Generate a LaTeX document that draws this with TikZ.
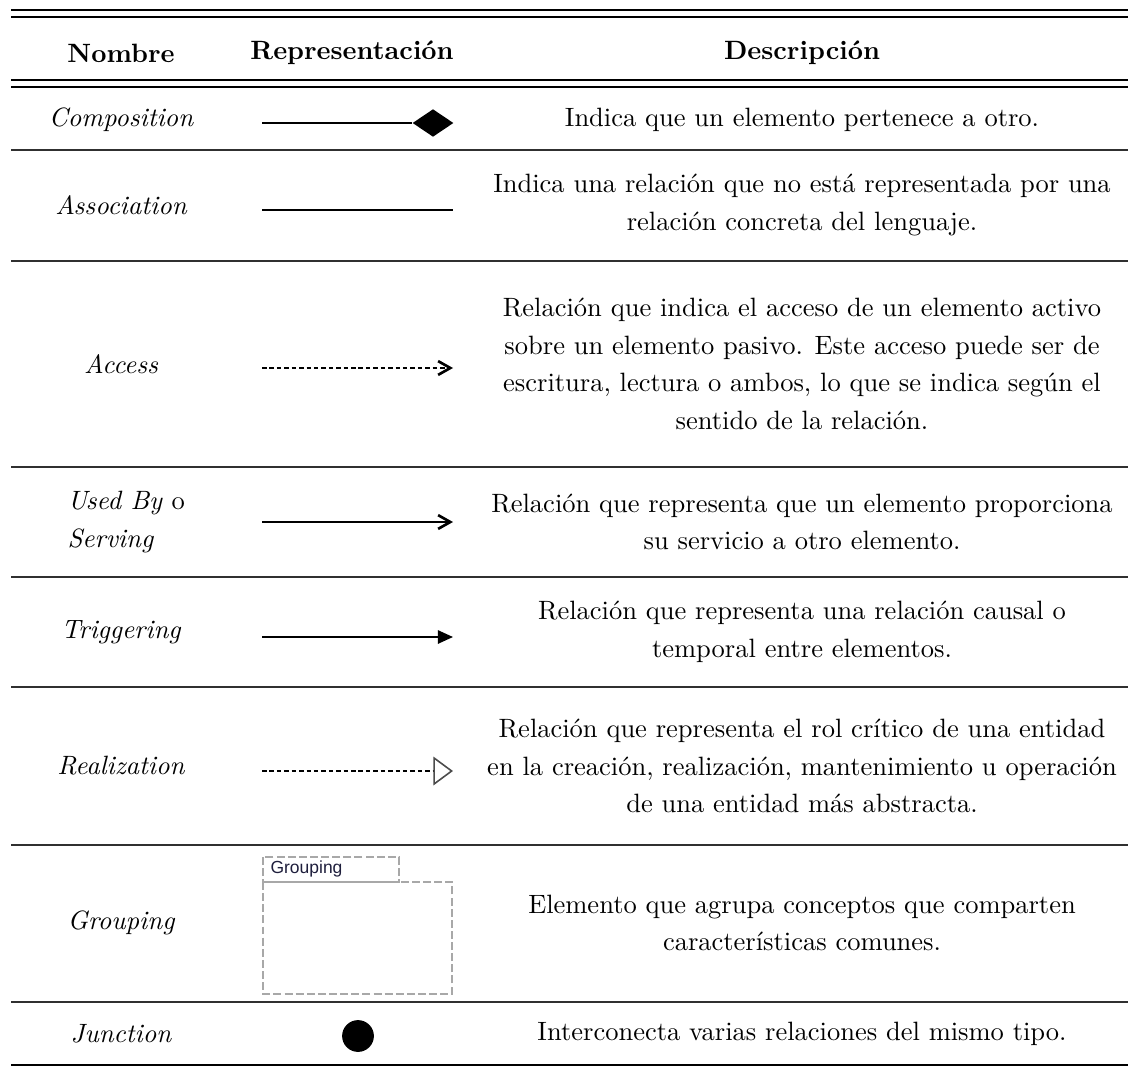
\documentclass[tikz,border=0pt]{standalone}
\usepackage{fontspec}
\newfontfamily\uifont{Liberation Sans}
\usetikzlibrary{arrows.meta,shapes.geometric}
\definecolor{rulegray}{HTML}{303030}
\definecolor{boxgray}{HTML}{A8A8A8}
\definecolor{labelink}{HTML}{1E1E3C}
\begin{document}
\begin{tikzpicture}[x=0.3774pt,y=-0.3774pt,
  heavyrule/.style={line width=0.75pt,draw=black},
  lightrule/.style={line width=0.55pt,draw=rulegray},
  head/.style={font=\bfseries,inner sep=0pt},
  entry/.style={font=\itshape,inner sep=0pt},
  desc/.style={align=center,inner sep=0pt,font=\fontsize{10}{14.15}\selectfont},
  relline/.style={line width=0.75pt,draw=black},
  dashline/.style={relline,dash pattern=on 1.7pt off 1.1pt},
  groupline/.style={draw=boxgray,line width=0.45pt,dash pattern=on 3pt off 1.2pt}
]
% page frame
\useasboundingbox (0,0) rectangle (1128,1066);

% table rules
\draw[heavyrule] (11,10) -- (1128,10);
\draw[heavyrule] (11,17) -- (1128,17);
\draw[heavyrule] (11,80) -- (1128,80);
\draw[heavyrule] (11,87) -- (1128,87);
\foreach \yy in {150,261,467,577,687,845,1002}
  \draw[lightrule] (11,\yy) -- (1128,\yy);
\draw[heavyrule] (11,1065) -- (1128,1065);

% header
\node[head] (hName) at (121,53) {Nombre};
\node[head] (hRep)  at (352,53) {Representación};
\node[head] (hDesc) at (802,53) {Descripción};

% first column
\node[entry] (nComp)  at (121,120) {Composition};
\node[entry] (nAssoc) at (121,205) {Association};
\node[entry] (nAcc)   at (121,364) {Access};
\node[inner sep=0pt,align=left,anchor=west,font=\fontsize{10}{14.15}\selectfont]
  (nUsed) at (67,522) {\textit{Used By} o\\\textit{Serving}};
\node[entry] (nTrig)  at (121,632) {Triggering};
\node[entry] (nReal)  at (121,766) {Realization};
\node[entry] (nGroup) at (121,923) {Grouping};
\node[entry] (nJunc)  at (121,1034) {Junction};

% descriptions
\node[desc] (dComp) at (802,120) {Indica que un elemento pertenece a otro.};
\node[desc] (dAssoc) at (802,205) {Indica una relación que no está representada por una\\relación concreta del lenguaje.};
\node[desc] (dAcc) at (802,364) {Relación que indica el acceso de un elemento activo\\sobre un elemento pasivo. Este acceso puede ser de\\escritura, lectura o ambos, lo que se indica según el\\sentido de la relación.};
\node[desc] (dUsed) at (802,522) {Relación que representa que un elemento proporciona\\su servicio a otro elemento.};
\node[desc] (dTrig) at (802,632) {Relación que representa una relación causal o\\temporal entre elementos.};
\node[desc] (dReal) at (802,766) {Relación que representa el rol crítico de una entidad\\en la creación, realización, mantenimiento u operación\\de una entidad más abstracta.};
\node[desc] (dGroup) at (802,923) {Elemento que agrupa conceptos que comparten\\características comunes.};
\node[desc] (dJunc) at (802,1034) {Interconecta varias relaciones del mismo tipo.};

% composition: line ending in a filled diamond
\coordinate (compTail) at (262,123);
\node[diamond,fill=black,inner sep=0pt,minimum width=15.5pt,minimum height=10.5pt] (compHead) at (433,123) {};
\draw[relline] (compTail) -- (compHead.west);

% association: plain line
\coordinate (assocTail) at (262,210);
\coordinate (assocHead) at (453,210);
\draw[relline,line width=0.85pt] (assocTail) -- (assocHead);

% access: dashed line with open barb
\coordinate (accTail) at (262,368);
\coordinate (accHead) at (453,368);
\draw[dashline,-{Straight Barb[length=4.6pt,width=5.2pt,line width=1pt]}] (accTail) -- (accHead);

% used by / serving: solid line with open barb
\coordinate (usedTail) at (262,522);
\coordinate (usedHead) at (453,522);
\draw[relline,-{Straight Barb[length=4.6pt,width=5.2pt,line width=1pt]}] (usedTail) -- (usedHead);

% triggering: solid line with filled triangle
\coordinate (trigTail) at (262,637);
\coordinate (trigHead) at (453,637);
\draw[relline,-{Triangle[length=5.7pt,width=5pt]}] (trigTail) -- (trigHead);

% realization: dashed line with hollow triangle
\coordinate (realTail) at (262,771);
\coordinate (realHead) at (453,771);
\draw[dashline,-{Triangle[open,length=7.4pt,width=10.8pt,line width=0.6pt,color=black!70,fill=white]}] (realTail) -- (realHead);

% grouping: folder-like dashed box with a tab
\draw[groupline] (263,857) rectangle (399,882);
\draw[groupline] (263,882) rectangle (452,994);
\node[anchor=west,inner sep=0pt,text=labelink,font=\uifont\fontsize{6.6}{8}\selectfont] (grpLabel) at (270,869) {Grouping};

% junction: filled dot
\node[circle,fill=black,inner sep=0pt,minimum size=12pt] (junc) at (358,1036) {};
\end{tikzpicture}
\end{document}
